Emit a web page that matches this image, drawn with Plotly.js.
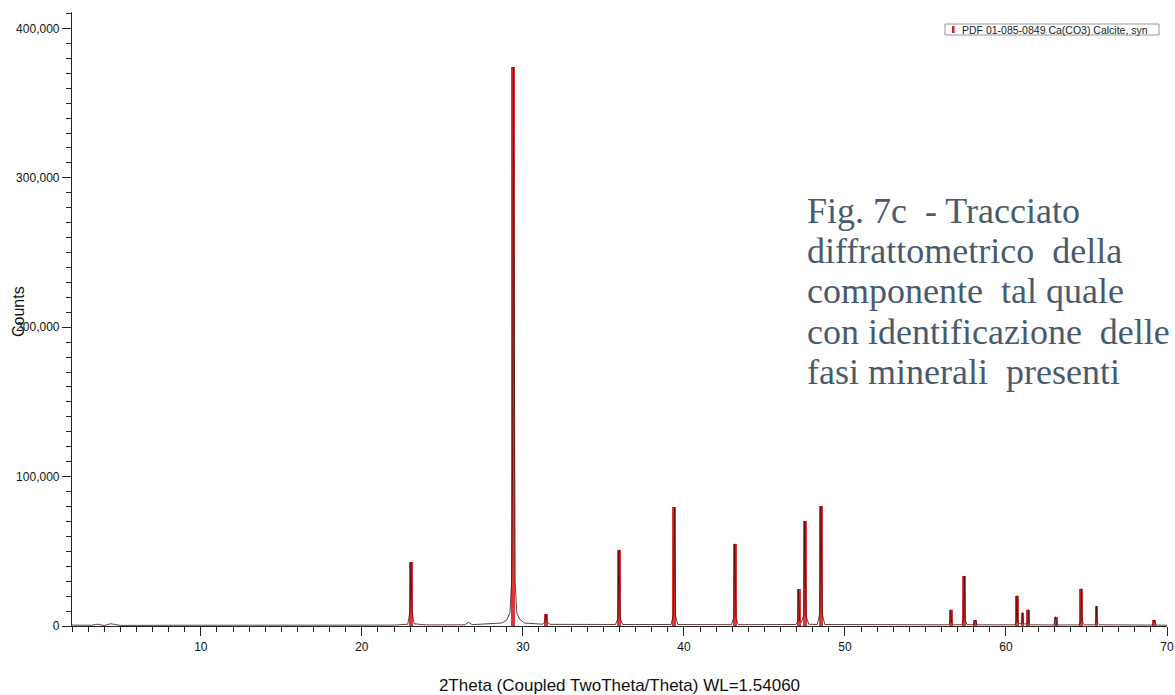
<!DOCTYPE html>
<html>
<head>
<meta charset="utf-8">
<script src="https://cdn.plot.ly/plotly-3.0.1.min.js"></script>
<style>html,body{margin:0;padding:0;background:#fff;}#chart{width:1175px;height:695px;}</style>
</head>
<body>
<div id="chart"></div>
<script>
// Reference pattern (PDF 01-085-0849 Calcite) stick positions (2Theta) and intensities (counts)
const stickPos = [23.05, 29.41, 31.43, 35.97, 39.41, 43.16, 47.12, 47.51, 48.51, 56.57, 57.41, 58.10, 60.68, 61.03, 61.39, 63.08, 64.68, 65.62, 69.21];
const stickInt = [42800, 374000, 8000, 51000, 79500, 55000, 24500, 70000, 80000, 11000, 33500, 4000, 20300, 9000, 11000, 6200, 25000, 13100, 4000];

// Measured pattern
const obsTheta = [2.0, 2.6, 3.2, 3.6, 4.0, 4.4, 5.0, 8.0, 12.0, 16.0, 20.0, 22.0,
  22.85, 22.98, 23.05, 23.12, 23.25, 24.0, 26.4, 26.62, 26.85, 28.0, 28.7,
  29.0, 29.2, 29.3, 29.36, 29.41, 29.46, 29.52, 29.62, 29.8, 30.1,
  31.2, 31.36, 31.43, 31.5, 31.7,
  35.75, 35.9, 35.97, 36.04, 36.2,
  39.2, 39.34, 39.41, 39.48, 39.62,
  42.95, 43.09, 43.16, 43.23, 43.38,
  46.95, 47.07, 47.12, 47.18, 47.3, 47.44, 47.51, 47.58, 47.75,
  48.28, 48.43, 48.51, 48.59, 48.75,
  56.42, 56.52, 56.57, 56.62, 56.74,
  57.26, 57.36, 57.41, 57.46, 57.58,
  58.0, 58.1, 58.2,
  60.55, 60.64, 60.68, 60.73, 60.86, 60.98, 61.03, 61.08, 61.2, 61.35, 61.39, 61.44, 61.56,
  62.98, 63.08, 63.18,
  64.55, 64.64, 64.68, 64.73, 64.85,
  65.5, 65.58, 65.62, 65.67, 65.8,
  69.1, 69.21, 69.32, 70.0];
const obsCounts = [600, 400, 500, 1200, 300, 1500, 400, 500, 400, 400, 500, 600,
  1200, 9000, 42800, 9000, 1500, 700, 800, 2500, 900, 1400, 2000,
  4000, 9000, 30000, 110000, 374000, 110000, 30000, 9000, 4500, 2000,
  1200, 2500, 8000, 2500, 1100,
  1000, 5000, 51000, 5000, 1000,
  1000, 7000, 79500, 7000, 1000,
  900, 5500, 55000, 5500, 900,
  1000, 3000, 24500, 3500, 2500, 7000, 70000, 7000, 1200,
  1000, 8000, 80000, 8000, 1000,
  800, 2000, 11000, 2000, 800,
  900, 4000, 33500, 4000, 900,
  800, 4000, 800,
  800, 2500, 20300, 2500, 1500, 1500, 9000, 1500, 1300, 1500, 11000, 1500, 800,
  700, 6200, 700,
  700, 3000, 25000, 3000, 800,
  800, 2000, 13100, 2000, 800,
  600, 4000, 600, 500];

const legendName = 'PDF 01-085-0849 Ca(CO3) Calcite, syn';
const captionLines = ['Fig. 7c  - Tracciato', 'diffrattometrico  della', 'componente  tal quale', 'con identificazione  delle', 'fasi minerali  presenti'];
const xTitle = '2Theta (Coupled TwoTheta/Theta) WL=1.54060';
const yTitle = 'Counts';

const W = 1175, H = 695, ML = 72, MR = 8, MT = 12, MB = 69;
const PW = W - ML - MR, PH = H - MT - MB;
const px2x = p => (p - ML) / PW;
const py2y = p => (H - MB - p) / PH;
const X_RANGE = [2, 70], Y_RANGE = [0, 411000];

const traces = [
  {
    type: 'bar', x: stickPos, y: stickInt, width: 0.24, name: legendName,
    marker: {color: 'rgba(222,30,30,0.9)', line: {width: 0}},
    showlegend: false, hoverinfo: 'x+y'
  },
  {
    type: 'scatter', mode: 'lines', x: obsTheta, y: obsCounts, name: 'measured',
    line: {color: '#3a1010', width: 0.8}, showlegend: false
  }
];

const annotations = captionLines.map((t, i) => ({
  text: t, xref: 'paper', yref: 'paper',
  x: px2x(805), xanchor: 'left',
  y: py2y(211 + i * 40.2), yanchor: 'middle',
  showarrow: false, align: 'left',
  font: {family: 'Liberation Serif, Times New Roman, serif', size: 36, color: '#4a5a6e'}
}));
annotations.push({
  text: yTitle, xref: 'paper', yref: 'paper',
  x: px2x(18), xanchor: 'center', y: py2y(312), yanchor: 'middle',
  textangle: -90, showarrow: false,
  font: {family: 'Liberation Sans, Arial, sans-serif', size: 16, color: '#111'}
});
// legend text
annotations.push({
  text: legendName, xref: 'paper', yref: 'paper',
  x: px2x(961), xanchor: 'left', y: py2y(29.5), yanchor: 'middle',
  showarrow: false, borderpad: 0,
  font: {family: 'Liberation Sans, Arial, sans-serif', size: 10.5, color: '#222'}
});

const shapes = [
  {
    type: 'rect', xref: 'paper', yref: 'paper',
    x0: px2x(945), x1: px2x(1159), y0: py2y(35), y1: py2y(24),
    fillcolor: '#fff', line: {color: '#999', width: 1}
  },
  {
    type: 'rect', xref: 'paper', yref: 'paper',
    x0: px2x(952), x1: px2x(954.5), y0: py2y(33), y1: py2y(26),
    fillcolor: '#d42020', line: {width: 0}
  }
];

const tickCol = '#222';
const layout = {
  width: W, height: H,
  margin: {l: ML, r: MR, t: MT, b: MB},
  paper_bgcolor: '#fff', plot_bgcolor: '#fff',
  bargap: 0, barmode: 'overlay',
  font: {family: 'Liberation Sans, Arial, sans-serif', color: '#111'},
  showlegend: false,
  xaxis: {
    range: X_RANGE, dtick: 10, ticks: 'outside', ticklen: 9, tickwidth: 1.4, tickcolor: tickCol,
    showline: true, linecolor: tickCol, linewidth: 1.2, showgrid: false, zeroline: false,
    tickfont: {size: 12, color: '#111'},
    minor: {dtick: 1, ticks: 'outside', ticklen: 5, tickwidth: 1.4, tickcolor: tickCol},
    title: {text: xTitle, font: {size: 17, color: '#111'}, standoff: 27}
  },
  yaxis: {
    range: Y_RANGE, dtick: 100000, tickformat: ',d', ticks: 'outside', ticklen: 9, tickwidth: 1.4, tickcolor: tickCol,
    showline: true, linecolor: tickCol, linewidth: 1.2, showgrid: false, zeroline: false,
    tickfont: {size: 12, color: '#111'},
    minor: {dtick: 10000, ticks: 'outside', ticklen: 5, tickwidth: 1.4, tickcolor: tickCol}
  },
  annotations: annotations,
  shapes: shapes
};

Plotly.newPlot('chart', traces, layout, {displayModeBar: false});
</script>
</body>
</html>
